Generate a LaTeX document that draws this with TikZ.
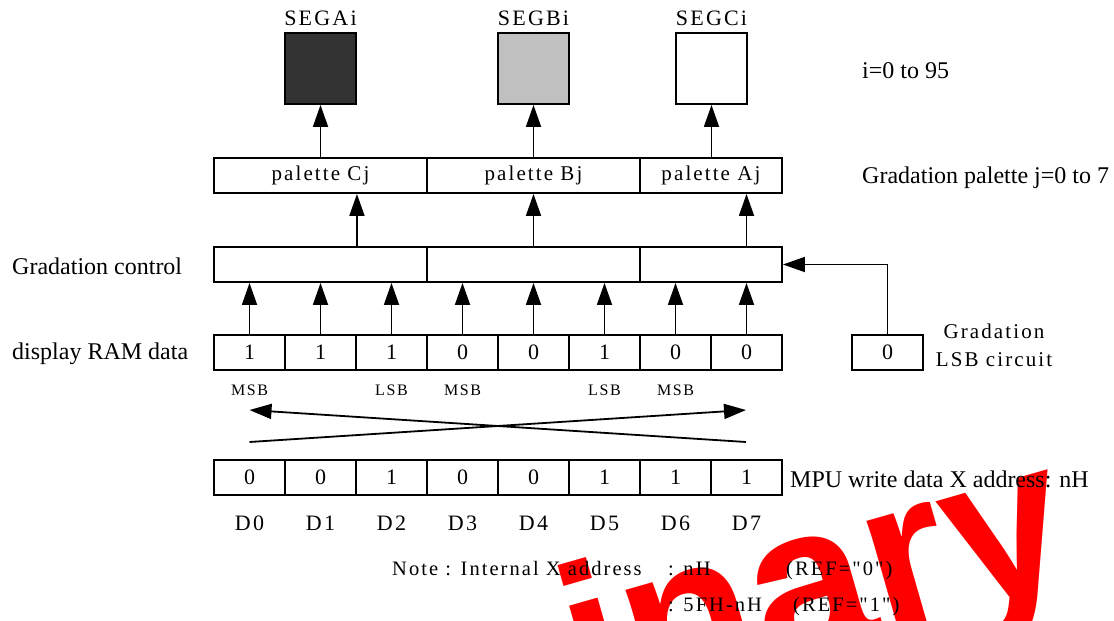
\documentclass[tikz,border=0pt]{standalone}
\usepackage{fontspec}
\setmainfont{Liberation Serif}
\newfontfamily\spc[LetterSpace=10]{Liberation Serif}
\newfontfamily\wmfont{Liberation Sans}
\usetikzlibrary{arrows.meta}
\begin{document}
\begin{tikzpicture}[x=1pt,y=-1pt,
  box/.style={draw, line width=1.9pt, inner sep=0pt, minimum height=35pt, font=\spc\fontsize{21}{21}\selectfont},
  cell/.style={box, minimum width=71pt, font=\spc\fontsize{22}{22}\selectfont},
  seg/.style={draw, line width=1.9pt, minimum width=71pt, minimum height=71pt, inner sep=0pt},
  arr/.style={line width=1.8pt, -{Triangle[length=22pt,width=15pt]}},
  lbl/.style={font=\fontsize{24}{24}\selectfont, inner sep=0pt},
  slbl/.style={font=\spc\fontsize{21}{21}\selectfont, inner sep=0pt},
  small/.style={font=\spc\fontsize{16}{16}\selectfont, inner sep=0pt},
  note/.style={font=\spc\fontsize{20.5}{20.5}\selectfont, inner sep=0pt, anchor=base west}
]
\useasboundingbox (0,0) rectangle (1114,621);
% watermark
\begin{scope}
\clip (0,0) rectangle (1114,621);
\node[anchor=base west, rotate=16, inner sep=0pt, text=red, font=\wmfont\bfseries\fontsize{215}{215}\selectfont] (wm) at (586,720) {inary};
\end{scope}
% SEG boxes
\node[seg, fill={rgb,255:red,51;green,51;blue,51}] (sA) at (320.5,68.5) {};
\node[seg, fill={rgb,255:red,192;green,192;blue,192}] (sB) at (533.5,68.5) {};
\node[seg, fill=white] (sC) at (711.5,68.5) {};
\node[slbl, anchor=base, font=\spc\fontsize{22}{22}\selectfont] (tA) at (320.5,25) {SEGAi};
\node[slbl, anchor=base, font=\spc\fontsize{22}{22}\selectfont] (tB) at (533.5,25) {SEGBi};
\node[slbl, anchor=base, font=\spc\fontsize{22}{22}\selectfont] (tC) at (711.5,25) {SEGCi};
% palette row
\node[box, minimum width=213pt] (pC) at (320.5,175.5) {palette Cj};
\node[box, minimum width=213pt] (pB) at (533.5,175.5) {palette Bj};
\node[box, minimum width=142pt] (pA) at (711,175.5) {palette Aj};
% gradation control row
\node[box, minimum width=213pt] (gC) at (320.5,264.5) {};
\node[box, minimum width=213pt] (gB) at (533.5,264.5) {};
\node[box, minimum width=142pt] (gA) at (711,264.5) {};
% RAM and MPU rows
\foreach \b [count=\k from 0] in {1,1,1,0,0,1,0,0}
  \node[cell] (r\k) at ({249.5+71*\k},352.5) {\b};
\foreach \b [count=\k from 0] in {0,0,1,0,0,1,1,1}
  \node[cell] (m\k) at ({249.5+71*\k},477.5) {\b};
\foreach \k in {0,...,7}
  \node[slbl, anchor=base, font=\spc\fontsize{22}{22}\selectfont] (d\k) at ({249.5+71*\k},530) {D\k};
% LSB circuit
\node[cell] (lsb) at (887.5,352.5) {0};
\node[slbl] (lsbt1) at (994,331) {Gradation};
\node[slbl] (lsbt2) at (994,360) {LSB circuit};
% arrows
\foreach \k in {0,...,7}
  \draw[arr] (r\k.north) -- (r\k.north |- gC.south);
\draw[arr] (gC.north -| r1.east) -- (pC.south -| r1.east);
\draw[arr] (gB.north -| r4.center) -- (pB.south -| r4.center);
\draw[arr] (gA.north -| r7.center) -- (pA.south -| r7.center);
\draw[arr] (pC.north -| sA.south) -- (sA.south);
\draw[arr] (pB.north -| sB.south) -- (sB.south);
\draw[arr] (pA.north -| sC.south) -- (sC.south);
\draw[arr] (lsb.north) |- (gA.east);
% MSB / LSB
\node[small, anchor=base] (ms0) at (249.5,395) {MSB};
\node[small, anchor=base] (ls0) at (391.5,395) {LSB};
\node[small, anchor=base] (ms1) at (462.5,395) {MSB};
\node[small, anchor=base] (ls1) at (604.5,395) {LSB};
\node[small, anchor=base] (ms2) at (675.5,395) {MSB};
% crossing arrows
\coordinate (bl) at (249.5,442);
\coordinate (br) at (746,442);
\coordinate (tl) at (249.5,410);
\coordinate (tr) at (746,410);
\draw[arr] (br) -- (tl);
\draw[arr] (bl) -- (tr);
% side labels
\node[lbl, anchor=west] (lgc) at (12,266) {Gradation control};
\node[lbl, anchor=west] (lram) at (12,354) {display RAM data};
\node[lbl, anchor=west] (li) at (862,71) {i=0 to 95};
\node[lbl, anchor=west] (lpal) at (862,178) {Gradation palette j=0 to 7};
\node[lbl, anchor=west] (lmpu) at (790,479) {MPU write data X address: nH};
% note
\node[note] (n1) at (392,575) {Note : Internal X address};
\node[note] (n2) at (668,575) {: nH};
\node[note] (n3) at (786,575) {(REF="0")};
\node[note] (n4) at (668,611) {: 5FH-nH};
\node[note] (n5) at (793,611) {(REF="1")};
\end{tikzpicture}
\end{document}
